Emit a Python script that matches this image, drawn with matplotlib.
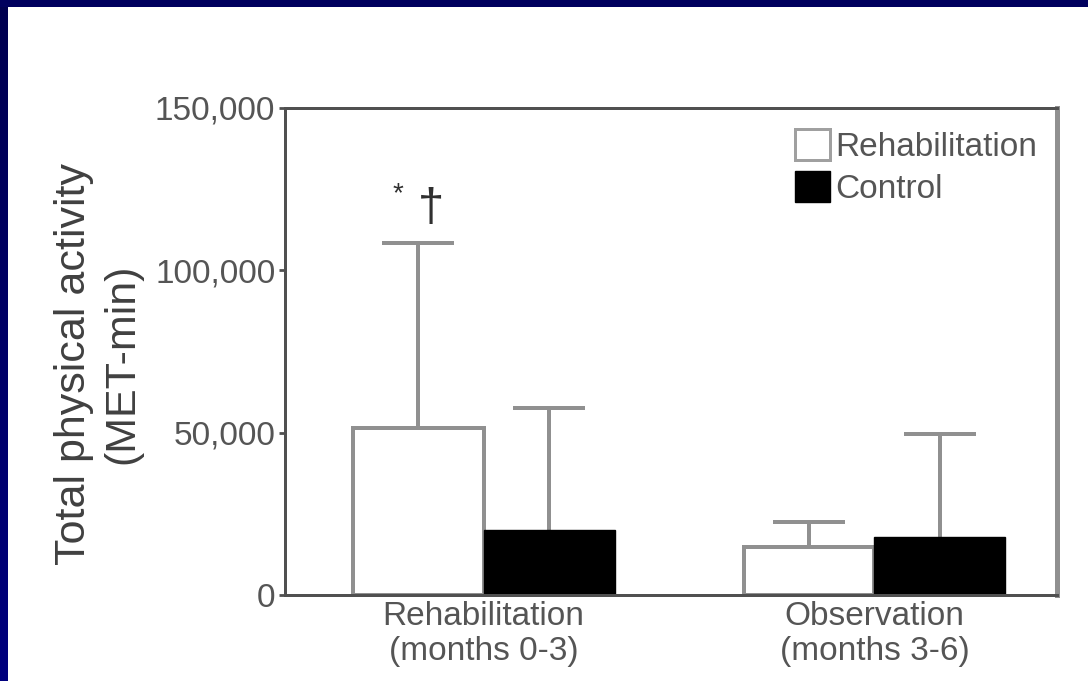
import numpy as np
import matplotlib
matplotlib.use("Agg")
import matplotlib.pyplot as plt
from matplotlib.patches import Patch
from matplotlib.ticker import FuncFormatter
from matplotlib.colors import LinearSegmentedColormap

plt.rcParams['font.family'] = ['Liberation Sans', 'DejaVu Sans']

# Data
periods = ["Rehabilitation\n(months 0-3)", "Observation\n(months 3-6)"]
groups = ["Rehabilitation", "Control"]
means_rehab = [51500, 14800]
means_control = [20000, 17900]
sd_rehab = [57000, 7700]
sd_control = [37600, 31700]
y_ticks = [0, 50000, 100000, 150000]
mark_star = "*"
mark_dagger = "\u2020"

W, H, DPI = 1088, 681, 100
fig = plt.figure(figsize=(W / DPI, H / DPI), dpi=DPI)
fig.patch.set_facecolor("white")

# Dark blue slide frame along the left and top edges
frame_l = fig.add_axes([0, 0, 8 / W, 1])
grad = np.linspace(0, 1, 256).reshape(-1, 1)
cmap = LinearSegmentedColormap.from_list("frame", ["#00007e", "#000050"])
frame_l.imshow(grad, aspect="auto", cmap=cmap, origin="lower", extent=[0, 1, 0, 1])
frame_l.axis("off")
frame_t = fig.add_axes([0, 1 - 7 / H, 1, 7 / H])
frame_t.set_facecolor("#00005e")
frame_t.set_xticks([]); frame_t.set_yticks([])
for s in frame_t.spines.values():
    s.set_visible(False)

ax = fig.add_axes([285 / W, 1 - 595 / H, 772 / W, 487 / H])

x = np.arange(len(periods))
bw = 0.335
cap = 0.092
gray = "#909090"
px = 0.72  # points per pixel at 100 dpi

ax.bar(x - bw / 2, means_rehab, bw, color="white", edgecolor=gray,
       linewidth=4 * px, zorder=2)
ax.bar(x + bw / 2, means_control, bw, color="black", edgecolor="black",
       linewidth=1, zorder=2)

# Upper-only error bars (stem from the bar top, cap at mean + SD)
for xs, m, s in [(x - bw / 2, means_rehab, sd_rehab),
                 (x + bw / 2, means_control, sd_control)]:
    m = np.asarray(m); s = np.asarray(s)
    ax.vlines(xs, m, m + s, colors=gray, linewidth=4 * px, zorder=1)
    ax.hlines(m + s, xs - cap, xs + cap, colors=gray, linewidth=4 * px, zorder=1)

# Significance markers above the rehabilitation-period error bar
top0 = means_rehab[0] + sd_rehab[0]
ax.annotate(mark_star, xy=(x[0] - bw / 2, top0), xytext=(-20, 62),
            textcoords="offset pixels", ha="center", va="top",
            fontsize=20, color="#303030")
ax.annotate(mark_dagger, xy=(x[0] - bw / 2, top0), xytext=(13, 12),
            textcoords="offset pixels", ha="center", va="bottom",
            fontsize=34, color="#303030")

ax.set_xlim(-0.508, 1.467)
ax.set_ylim(0, 150000)
ax.set_yticks(y_ticks)
ax.yaxis.set_major_formatter(FuncFormatter(lambda v, p: f"{int(v):,}"))
ax.set_xticks(x)
ax.set_xticklabels(periods)

ax.tick_params(axis="y", direction="out", length=4, width=2, color="#505050",
               labelsize=24, labelcolor="#555555", pad=3)
ax.tick_params(axis="x", length=0, labelsize=24, labelcolor="#555555", pad=4)

ax.set_ylabel("Total physical activity\n(MET-min)", fontsize=31,
              color="#404040", linespacing=1.25)
ax.yaxis.set_label_coords(-0.185, 0.475)

for side in ["left", "top", "bottom"]:
    ax.spines[side].set_color("#505050")
    ax.spines[side].set_linewidth(3 * px)
ax.spines["right"].set_color(gray)
ax.spines["right"].set_linewidth(5 * px)

handles = [Patch(facecolor="white", edgecolor="#a0a0a0", linewidth=3 * px),
           Patch(facecolor="black", edgecolor="black")]
leg = ax.legend(handles, groups, loc="upper left",
                bbox_to_anchor=((795 - 285) / 772, (595 - 129) / 487),
                frameon=False, fontsize=24, handlelength=1.05,
                handleheight=1.05, handletextpad=0.15, labelspacing=0.25,
                borderpad=0, borderaxespad=0)
for t in leg.get_texts():
    t.set_color("#555555")

fig.savefig("out.png", dpi=DPI)
